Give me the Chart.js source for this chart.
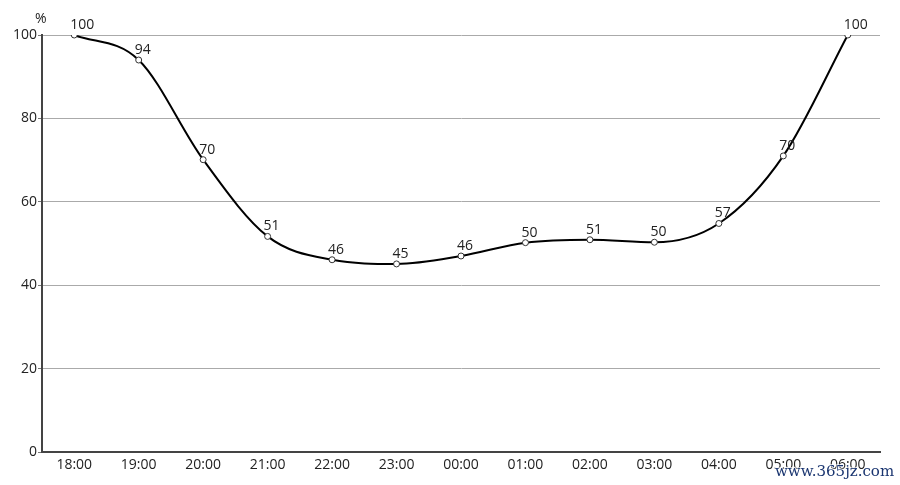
<!DOCTYPE html>
<html>
<head>
<meta charset="utf-8">
<script src="https://cdn.jsdelivr.net/npm/chart.js@4/dist/chart.umd.min.js"></script>
<style>
  html, body { margin: 0; padding: 0; background: #fff; }
  #wrap { width: 900px; height: 485px; }
</style>
</head>
<body>
<div id="wrap"><canvas id="chart"></canvas></div>
<script>
// hours along the bottom
var hours = ["18:00", "19:00", "20:00", "21:00", "22:00", "23:00", "00:00",
             "01:00", "02:00", "03:00", "04:00", "05:00", "06:00"];
// plotted values
var values = [100, 94, 70.1, 51.7, 46.1, 45.1, 47.0, 50.2, 50.9, 50.3, 54.8, 71.0, 100];
// the numbers printed next to each point
var pointLabels = ["100", "94", "70", "51", "46", "45", "46", "50", "51", "50", "57", "70", "100"];
var yTicks = [0, 20, 40, 60, 80, 100];

var FONT = "'Open Sans', 'Noto Sans', sans-serif";

/* writes the value labels, the % unit and the watermark */
var extras = {
  id: 'extras',
  afterDatasetsDraw: function(chart) {
    var ctx = chart.ctx;
    var meta = chart.getDatasetMeta(0);
    ctx.save();
    ctx.font = "14px " + FONT;
    ctx.fillStyle = '#222';
    ctx.textAlign = 'left';
    ctx.textBaseline = 'alphabetic';
    meta.data.forEach(function(pt, i) {
      ctx.fillText(pointLabels[i], pt.x - 4, pt.y - 6);
    });
    // unit above the y axis
    ctx.fillText('%', 35, 23);
    ctx.restore();
  },
  afterDraw: function(chart) {
    var ctx = chart.ctx;
    ctx.save();
    ctx.font = "15px 'DejaVu Serif', 'Liberation Serif', serif";
    ctx.textAlign = 'left';
    ctx.textBaseline = 'alphabetic';
    ctx.lineWidth = 2;
    ctx.strokeStyle = 'rgba(255,255,255,0.7)';
    ctx.strokeText('www.365jz.com', 775, 476);
    ctx.fillStyle = '#1a3570';
    ctx.fillText('www.365jz.com', 775, 476);
    ctx.restore();
  }
};

var ctx = document.getElementById('chart');
var chart = new Chart(ctx, {
  type: 'line',
  data: {
    labels: hours,
    datasets: [{
      data: values,
      borderColor: '#000',
      borderWidth: 2,
      cubicInterpolationMode: 'monotone',
      pointRadius: 3,
      pointBackgroundColor: '#fff',
      pointBorderColor: '#333',
      pointBorderWidth: 1,
      fill: false
    }]
  },
  options: {
    responsive: true,
    maintainAspectRatio: false,
    animation: false,
    layout: { padding: { left: 0, right: 20, top: 35, bottom: 0 } },
    plugins: {
      legend: { display: false },
      tooltip: { enabled: false }
    },
    scales: {
      x: {
        offset: true,
        grid: { display: false },
        border: { display: true, color: '#444', width: 2 },
        ticks: {
          color: '#222',
          font: { family: FONT, size: 14 },
          padding: -3,
          maxRotation: 0,
          autoSkip: false
        },
        afterFit: function(scale) { scale.height = 33; }
      },
      y: {
        min: 0,
        max: 100,
        afterBuildTicks: function(scale) {
          scale.ticks = yTicks.map(function(v) { return { value: v }; });
        },
        grid: { color: '#aaa', lineWidth: 1, tickLength: 4, tickColor: '#777' },
        border: { display: true, color: '#444', width: 2 },
        ticks: {
          color: '#222',
          font: { family: FONT, size: 14 },
          padding: 1
        },
        afterFit: function(scale) { scale.width = 42; }
      }
    }
  },
  plugins: [extras]
});
</script>
</body>
</html>
